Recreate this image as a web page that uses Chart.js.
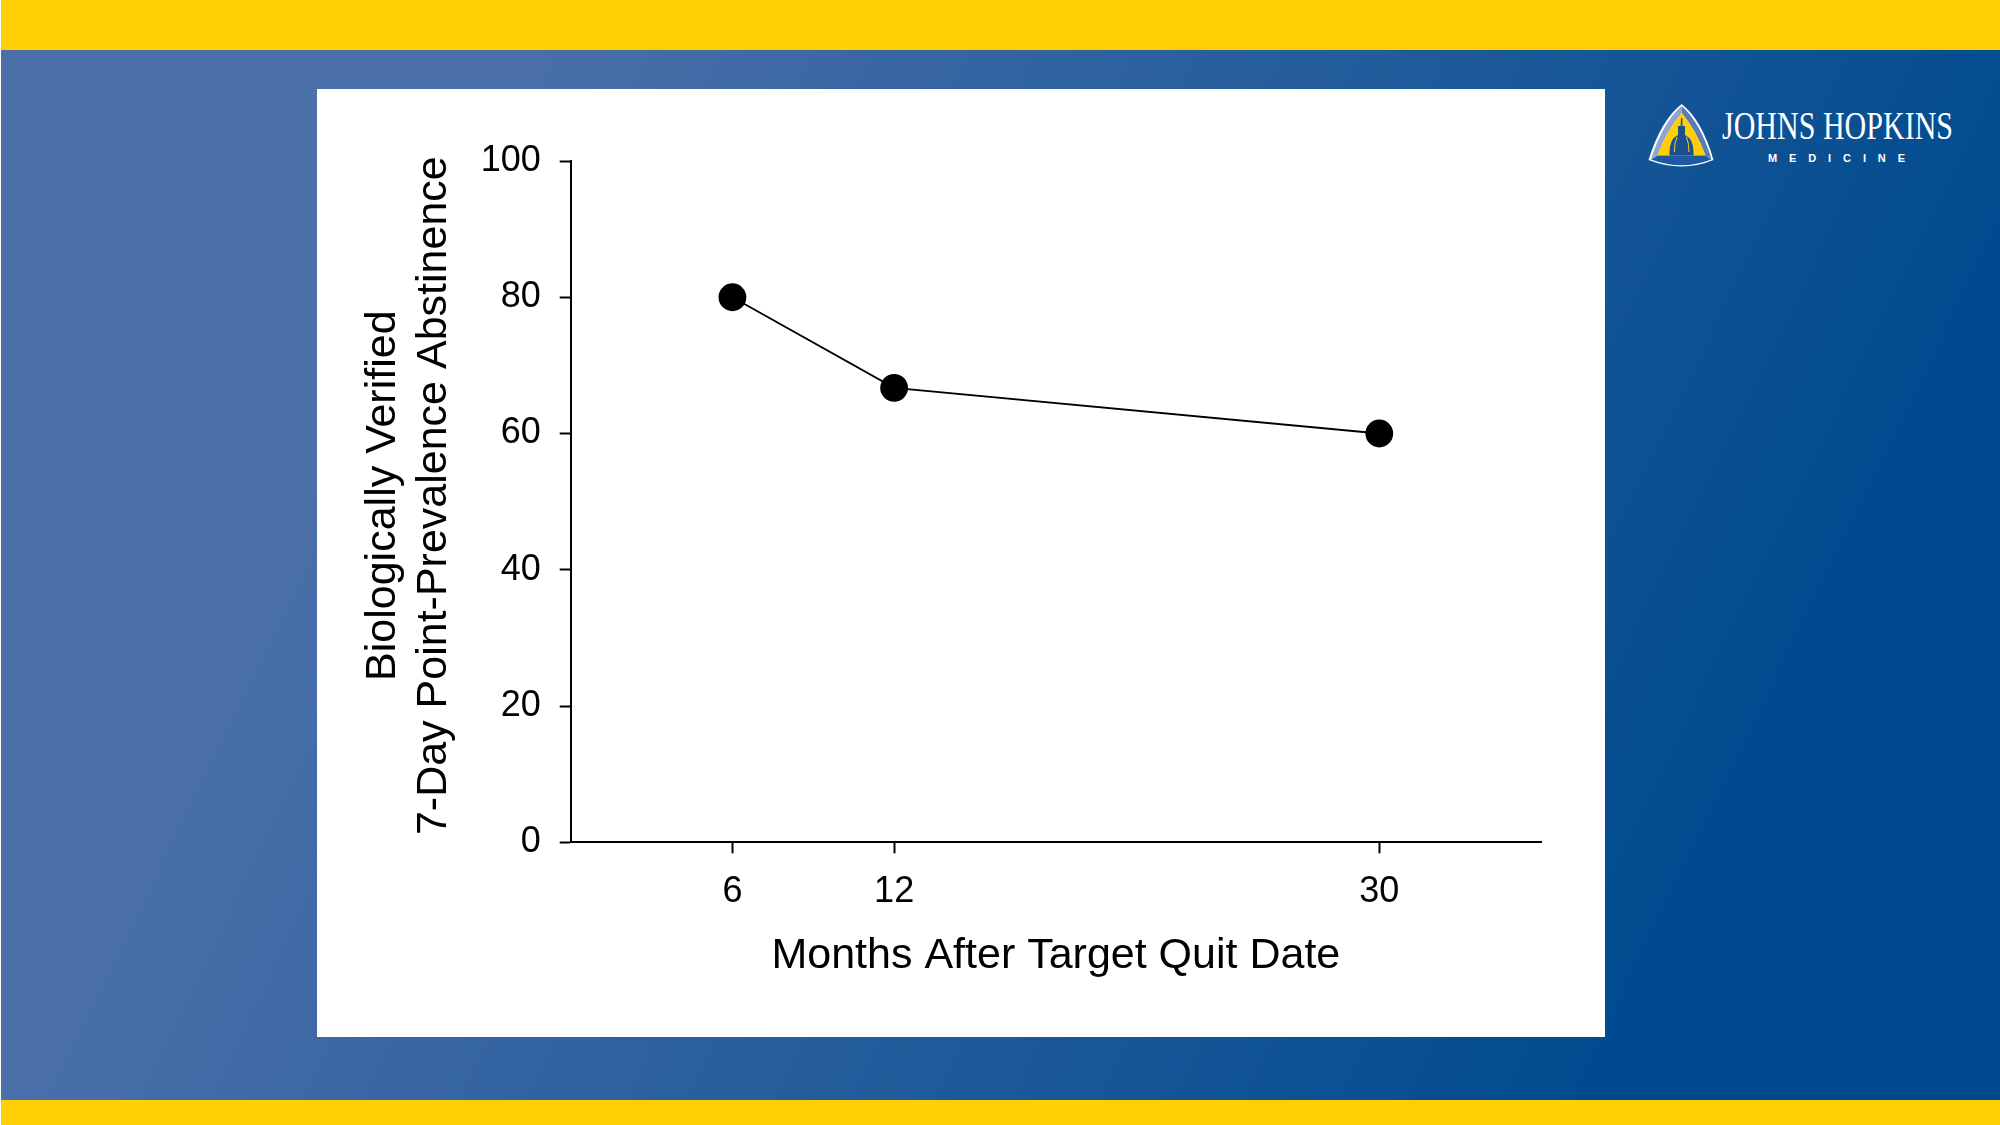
<!DOCTYPE html>
<html>
<head>
<meta charset="utf-8">
<title>Abstinence</title>
<script src="https://cdn.jsdelivr.net/npm/chart.js@4"></script>
<style>
  html, body { margin: 0; padding: 0; background: #fff; }
  #slide { position: relative; width: 2000px; height: 1125px; overflow: hidden; }
  #blue { position: absolute; left: 1px; top: 0; right: 0; bottom: 0;
    background: linear-gradient(116deg, #4a6fa9 0%, #4a6fa9 21.6%, #004b8f 83%, #004b8f 100%); }
  .band { position: absolute; left: 1px; right: 0; background: #ffcf06; }
  #panel { position: absolute; left: 317px; top: 89px; width: 1288px; height: 948px; background: #fff; }
  #logo { position: absolute; left: 1620px; top: 80px; }
</style>
</head>
<body>
<div id="slide">
  <div id="blue"></div>
  <div class="band" style="top:0;height:50px"></div>
  <div class="band" style="top:1100px;height:25px"></div>
  <div id="panel"><canvas id="abstinenceChart" width="1288" height="948"></canvas></div>
  <svg id="logo" width="360" height="110" viewBox="0 0 360 110">
    <path d="M61.7 24 Q82 40 93.5 80 Q61.7 93 28.5 80 Q41 40 61.7 24Z" fill="#fff"/>
    <path d="M61.7 26 Q43 42 31 79 L37.5 75.5 Q47 50 61.7 33Z" fill="#93a5cf"/>
    <path d="M61.7 26 Q80 42 91.5 79 L85.5 75.5 Q76 50 61.7 33Z" fill="#5a7cb4"/>
    <path d="M61.7 33 Q47 50 37.5 75.5 L85.5 75.5 Q76 50 61.7 33Z" fill="#ffcf06"/>
    <path d="M31 79.5 L37.5 75.5 L85.5 75.5 L91.5 79.5 Q61.7 91 31 79.5Z" fill="#1c5aa2"/>
    <path d="M61 38 h1.4 v8 h2.6 v9 q8.5 4 8.5 17 v3.5 h-24 v-3.5 q0 -13 8.5 -17 v-9 h2.6Z" fill="#1c4f92"/>
    <path d="M57 57 q-3 7 -2.5 15 M66.4 57 q3 7 2.5 15" fill="none" stroke="#ffcf06" stroke-width="1"/>
    <text x="102" y="59" font-family="Liberation Serif" font-size="41" fill="#fff" textLength="231" lengthAdjust="spacingAndGlyphs">JOHNS HOPKINS</text>
    <text x="148" y="82" font-family="Liberation Sans" font-size="11" font-weight="700" fill="#fff" textLength="137">MEDICINE</text>
  </svg>
</div>
<script>
  // values
  const months = [6, 12, 30];
  const abstinence = [80, 66.7, 60];
  const monthTicks = [6, 12, 30];
  const yTitle = ["Biologically Verified", "7-Day Point-Prevalence Abstinence"];
  const xTitle = "Months After Target Quit Date";

  const fontName = "'Liberation Sans', Arial, sans-serif";

  new Chart(document.getElementById("abstinenceChart").getContext("2d"), {
    type: "line",
    data: {
      datasets: [
        {
          data: months.map((m, i) => ({ x: m, y: abstinence[i] })),
          borderColor: "#000",
          backgroundColor: "#000",
          borderWidth: 1.8,
          pointRadius: 13,
          pointHoverRadius: 13,
          tension: 0,
        },
      ],
    },
    options: {
      responsive: false,
      animation: false,
      layout: { padding: { top: 72, right: 64, left: 0, bottom: 0 } },
      plugins: { legend: { display: false }, tooltip: { enabled: false } },
      scales: {
        x: {
          type: "linear",
          min: 0,
          max: 36,
          afterBuildTicks: (axis) => { axis.ticks = monthTicks.map((v) => ({ value: v })); },
          afterFit: (axis) => { axis.height = 194.7; },
          border: { color: "#000", width: 2 },
          grid: { drawOnChartArea: false, color: "#000", tickLength: 11, tickWidth: 2 },
          ticks: { color: "#000", font: { family: fontName, size: 36 }, padding: 17, maxRotation: 0, callback: (v) => String(v) },
          title: { display: true, text: xTitle, color: "#000", font: { family: fontName, size: 43 }, padding: { top: 16, bottom: 55 } },
        },
        y: {
          min: 0,
          max: 100,
          afterFit: (axis) => { axis.width = 253.7; },
          border: { color: "#000", width: 2 },
          grid: { drawOnChartArea: false, color: "#000", tickLength: 11, tickWidth: 2 },
          ticks: { color: "#000", stepSize: 20, font: { family: fontName, size: 36 }, padding: 19 },
          // leading space nudges the centred title up, as in the source figure
          title: { display: true, text: yTitle.map((t) => " " + t), color: "#000", font: { family: fontName, size: 43, lineHeight: 1.2 }, padding: { top: 40, bottom: 0 } },
        },
      },
    },
  });
</script>
</body>
</html>
